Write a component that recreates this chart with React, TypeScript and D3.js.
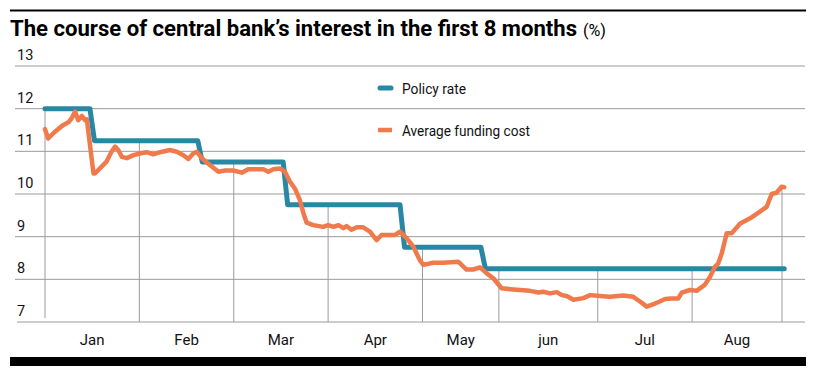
import React from "react";
import * as d3 from "d3";

const titleText = "The course of central bank\u2019s interest in the first 8 months";
const titleUnit = "(%)";
const yTicks = [7, 8, 9, 10, 11, 12, 13];
const monthLabels = ["Jan", "Feb", "Mar", "Apr", "May", "jun", "Jul", "Aug"];
// trading-day index of each month boundary
const monthBounds = [0, 21, 42, 63, 84, 101, 123, 144, 164];
const seriesNames = ["Policy rate", "Average funding cost"];

const policyRate: [number, number][] = [
  [0, 12], [10, 12], [11, 11.25], [34, 11.25], [35, 10.75], [53, 10.75],
  [54, 9.75], [79, 9.75], [80, 8.75], [97, 8.75], [98, 8.25], [164.5, 8.25],
];

const fundingCost: [number, number][] = [
  [0, 11.52], [0.7, 11.3], [2.2, 11.46], [4.1, 11.62], [5.2, 11.68], [5.9, 11.77],
  [6.7, 11.93], [7.4, 11.73], [8.2, 11.83], [8.9, 11.73], [9.3, 11.75], [10.8, 10.48],
  [11.1, 10.48], [13.7, 10.76], [14.8, 10.99], [15.6, 11.11], [16.3, 11.03], [17.1, 10.87],
  [18.2, 10.84], [19.7, 10.91], [21.1, 10.95], [22.6, 10.98], [24.1, 10.93], [25.6, 10.98],
  [27.8, 11.03], [29.3, 10.99], [30.8, 10.91], [31.9, 10.82], [33.0, 10.95], [33.8, 10.99],
  [34.9, 10.84], [36.7, 10.68], [38.6, 10.52], [40.1, 10.55], [41.9, 10.55], [43.8, 10.5],
  [45.2, 10.58], [47.1, 10.58], [48.6, 10.58], [49.7, 10.52], [50.8, 10.58], [52.3, 10.6],
  [53.4, 10.52], [54.5, 10.29], [55.6, 10.13], [56.7, 9.86], [57.5, 9.55], [58.2, 9.33],
  [59.7, 9.27], [61.9, 9.23], [63.0, 9.27], [64.2, 9.23], [65.3, 9.27], [66.4, 9.2],
  [67.1, 9.25], [68.2, 9.16], [69.4, 9.22], [70.8, 9.22], [72.3, 9.12], [73.8, 8.92],
  [74.9, 9.04], [76.4, 9.04], [77.9, 9.04], [79.0, 9.12], [80.5, 8.96], [82.0, 8.76],
  [83.4, 8.45], [84.2, 8.34], [86.4, 8.39], [88.6, 8.39], [92.0, 8.41], [93.8, 8.23],
  [95.3, 8.23], [96.8, 8.28], [98.3, 8.14], [99.8, 8.02], [101.6, 7.79], [103.5, 7.77],
  [105.7, 7.75], [107.9, 7.73], [109.8, 7.69], [110.9, 7.71], [112.4, 7.67], [113.9, 7.7],
  [115.0, 7.63], [116.1, 7.61], [117.6, 7.52], [119.8, 7.56], [121.3, 7.63], [123.5, 7.61],
  [125.7, 7.59], [128.7, 7.62], [130.9, 7.59], [132.4, 7.48], [133.9, 7.36], [135.4, 7.42],
  [136.8, 7.48], [138.0, 7.54], [139.4, 7.55], [140.9, 7.55], [141.7, 7.69], [143.5, 7.75],
  [145.0, 7.73], [146.8, 7.87], [148.0, 8.06], [149.1, 8.3], [149.8, 8.37], [150.6, 8.61],
  [151.7, 9.08], [152.8, 9.08], [154.7, 9.31], [156.9, 9.43], [158.7, 9.56], [160.6, 9.7],
  [161.7, 10.0], [162.8, 10.03], [163.9, 10.17], [164.5, 10.16],
];

const W = 819;
const H = 376;
const TEAL = "#2a86a5";
const ORANGE = "#f07a4b";
const GRID = "#9b9b9b";
const FONT = "'Roboto', 'Liberation Sans', sans-serif";

function valueAt(series: [number, number][], d: number) {
  const i = d3.bisector((p: [number, number]) => p[0]).left(series, d);
  if (i <= 0) return series[0][1];
  if (i >= series.length) return series[series.length - 1][1];
  const a = series[i - 1], b = series[i];
  const t = (d - a[0]) / (b[0] - a[0]);
  return a[1] + t * (b[1] - a[1]);
}

export default function App() {
  const x = d3.scaleLinear().domain([0, 164]).range([45, 782]);
  const y = d3.scaleLinear().domain([7, 13]).range([322, 66]);
  const line = d3.line<[number, number]>().x((d) => x(d[0])).y((d) => y(d[1]));

  return (
    <svg width={W} height={H} style={{ position: "absolute", left: 0, top: 0, background: "#fff" }} fontFamily={FONT}>
      <rect x={0} y={0} width={W} height={H} fill="#fff" />
      <line x1={10} x2={806} y1={10.5} y2={10.5} stroke="#000" strokeWidth={2} />
      <text x={10} y={36} fontSize={22} fontWeight={700} fill="#000" textLength={567} lengthAdjust="spacingAndGlyphs">
        {titleText}
      </text>
      <text x={583} y={36} fontSize={16} fill="#000" textLength={23} lengthAdjust="spacingAndGlyphs">
        {titleUnit}
      </text>

      {yTicks.map((t) => (
        <g key={t}>
          <line x1={t === 7 ? 17 : 15} x2={805} y1={y(t)} y2={y(t)} stroke={GRID} strokeWidth={1} />
          <text x={17} y={y(t) - 6} fontSize={14.5} fill="#111">{t}</text>
        </g>
      ))}

      {monthBounds.map((b, i) => {
        const top = Math.max(valueAt(policyRate, b), valueAt(fundingCost, b));
        return (
          <line key={i} x1={x(b)} x2={x(b)} y1={y(top)} y2={i === 0 ? y(7) - 4 : y(7)} stroke={GRID} strokeWidth={1} />
        );
      })}

      {monthLabels.map((m, i) => (
        <text key={m} x={x((monthBounds[i] + monthBounds[i + 1]) / 2)} y={345} fontSize={15} textAnchor="middle" fill="#111">
          {m}
        </text>
      ))}

      <path d={line(policyRate) || ""} fill="none" stroke={TEAL} strokeWidth={5} strokeLinejoin="round" strokeLinecap="round" />
      <path d={line(fundingCost) || ""} fill="none" stroke={ORANGE} strokeWidth={4.5} strokeLinejoin="round" strokeLinecap="round" />

      <line x1={380} x2={391} y1={88} y2={88} stroke={TEAL} strokeWidth={5} strokeLinecap="round" />
      <text x={402} y={93.5} fontSize={15} fill="#111" textLength={64} lengthAdjust="spacingAndGlyphs">{seriesNames[0]}</text>
      <line x1={378} x2={392} y1={130} y2={130} stroke={ORANGE} strokeWidth={4.5} />
      <text x={402} y={135.5} fontSize={15} fill="#111" textLength={128} lengthAdjust="spacingAndGlyphs">{seriesNames[1]}</text>

      <rect x={10} y={357} width={796} height={9} fill="#000" />
    </svg>
  );
}
